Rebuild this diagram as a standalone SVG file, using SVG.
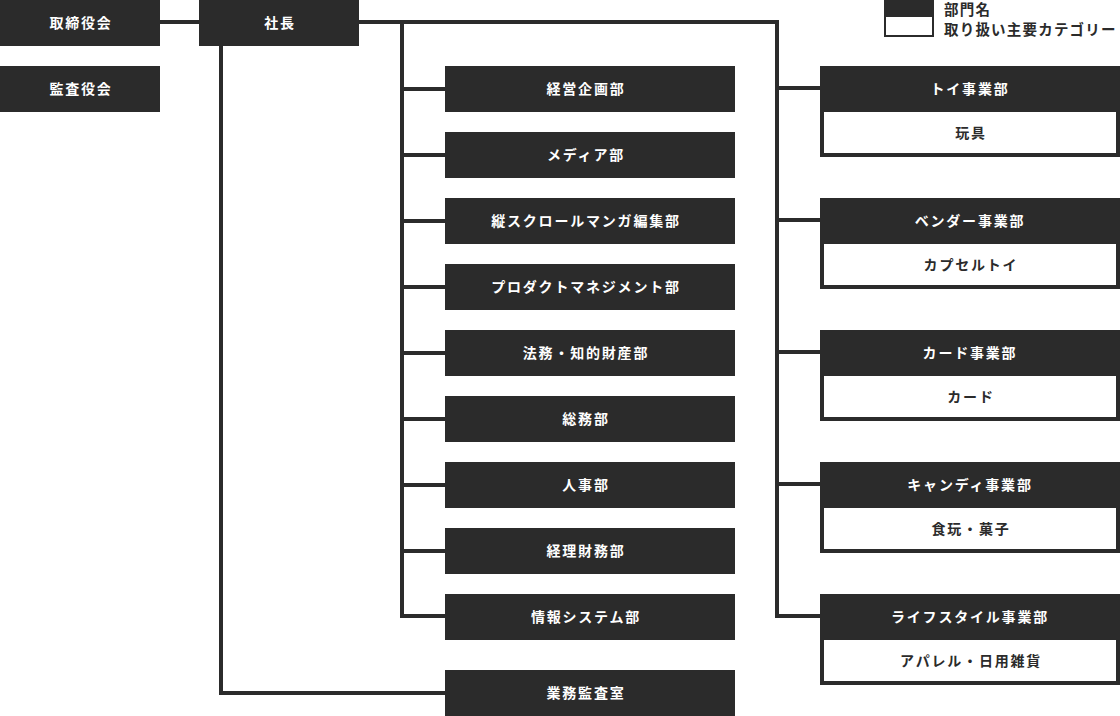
<svg xmlns="http://www.w3.org/2000/svg" width="1120" height="716" viewBox="0 0 1120 716">
<style>
.bx{fill:#2b2b2b}
.wb{fill:#ffffff}
.t{font-family:"Noto Sans CJK JP","Noto Sans",sans-serif;font-size:14px;font-weight:bold;letter-spacing:1.8px;text-anchor:middle}
.tw{fill:#ffffff}
.td{fill:#2b2b2b}
.lg{font-family:"Noto Sans CJK JP","Noto Sans",sans-serif;font-size:14.5px;font-weight:bold;letter-spacing:1.2px;fill:#2b2b2b}
.c{fill:none;stroke:#2b2b2b;stroke-width:4;stroke-linejoin:miter}
</style>
<rect width="1120" height="716" fill="#ffffff"/>
<g id="connectors">
<path class="c" d="M160 22H199"/>
<path class="c" d="M359 22H777V616H820"/>
<path class="c" d="M777 88H820M777 220H820M777 352H820M777 484H820"/>
<path class="c" d="M402 22V616H445"/>
<path class="c" d="M402 89H445M402 155H445M402 221H445M402 287H445M402 353H445M402 419H445M402 485H445M402 551H445"/>
<path class="c" d="M221 46V693H445"/>
</g>
<g id="legend">
<rect class="bx" x="884" y="0" width="50" height="37"/>
<rect class="wb" x="886" y="17" width="46" height="18"/>
<text class="lg" x="944" y="15">部門名</text>
<text class="lg" x="944" y="35">取り扱い主要カテゴリー</text>
</g>
<g id="torishimariyakukai"><rect class="bx" x="0" y="0" width="160" height="46"/><text class="t tw" x="81" y="28">取締役会</text></g>
<g id="kansayakukai"><rect class="bx" x="0" y="66" width="160" height="46"/><text class="t tw" x="81" y="94">監査役会</text></g>
<g id="shacho"><rect class="bx" x="199" y="0" width="160" height="46"/><text class="t tw" x="280" y="28">社長</text></g>
<g id="keiei"><rect class="bx" x="445" y="66" width="290" height="46"/><text class="t tw" x="586" y="94">経営企画部</text></g>
<g id="media"><rect class="bx" x="445" y="132" width="290" height="46"/><text class="t tw" x="586" y="160">メディア部</text></g>
<g id="tatescroll"><rect class="bx" x="445" y="198" width="290" height="46"/><text class="t tw" x="586" y="226">縦スクロールマンガ編集部</text></g>
<g id="product"><rect class="bx" x="445" y="264" width="290" height="46"/><text class="t tw" x="586" y="292">プロダクトマネジメント部</text></g>
<g id="houmu"><rect class="bx" x="445" y="330" width="290" height="46"/><text class="t tw" x="586" y="358">法務・知的財産部</text></g>
<g id="soumu"><rect class="bx" x="445" y="396" width="290" height="46"/><text class="t tw" x="586" y="424">総務部</text></g>
<g id="jinji"><rect class="bx" x="445" y="462" width="290" height="46"/><text class="t tw" x="586" y="490">人事部</text></g>
<g id="keiri"><rect class="bx" x="445" y="528" width="290" height="46"/><text class="t tw" x="586" y="556">経理財務部</text></g>
<g id="joho"><rect class="bx" x="445" y="594" width="290" height="46"/><text class="t tw" x="586" y="622">情報システム部</text></g>
<g id="gyomukansa"><rect class="bx" x="445" y="670" width="290" height="46"/><text class="t tw" x="586" y="698">業務監査室</text></g>
<g id="toy"><rect class="bx" x="820" y="66" width="300" height="91"/><rect class="wb" x="824" y="112" width="292" height="41"/><text class="t tw" x="970" y="94">トイ事業部</text><text class="t td" x="971" y="138">玩具</text></g>
<g id="vendor"><rect class="bx" x="820" y="198" width="300" height="91"/><rect class="wb" x="824" y="244" width="292" height="41"/><text class="t tw" x="970" y="226">ベンダー事業部</text><text class="t td" x="971" y="270">カプセルトイ</text></g>
<g id="card"><rect class="bx" x="820" y="330" width="300" height="91"/><rect class="wb" x="824" y="376" width="292" height="41"/><text class="t tw" x="970" y="358">カード事業部</text><text class="t td" x="971" y="402">カード</text></g>
<g id="candy"><rect class="bx" x="820" y="462" width="300" height="91"/><rect class="wb" x="824" y="508" width="292" height="41"/><text class="t tw" x="970" y="490">キャンディ事業部</text><text class="t td" x="971" y="534">食玩・菓子</text></g>
<g id="lifestyle"><rect class="bx" x="820" y="594" width="300" height="91"/><rect class="wb" x="824" y="640" width="292" height="41"/><text class="t tw" x="970" y="622">ライフスタイル事業部</text><text class="t td" x="971" y="666">アパレル・日用雑貨</text></g>
</svg>
